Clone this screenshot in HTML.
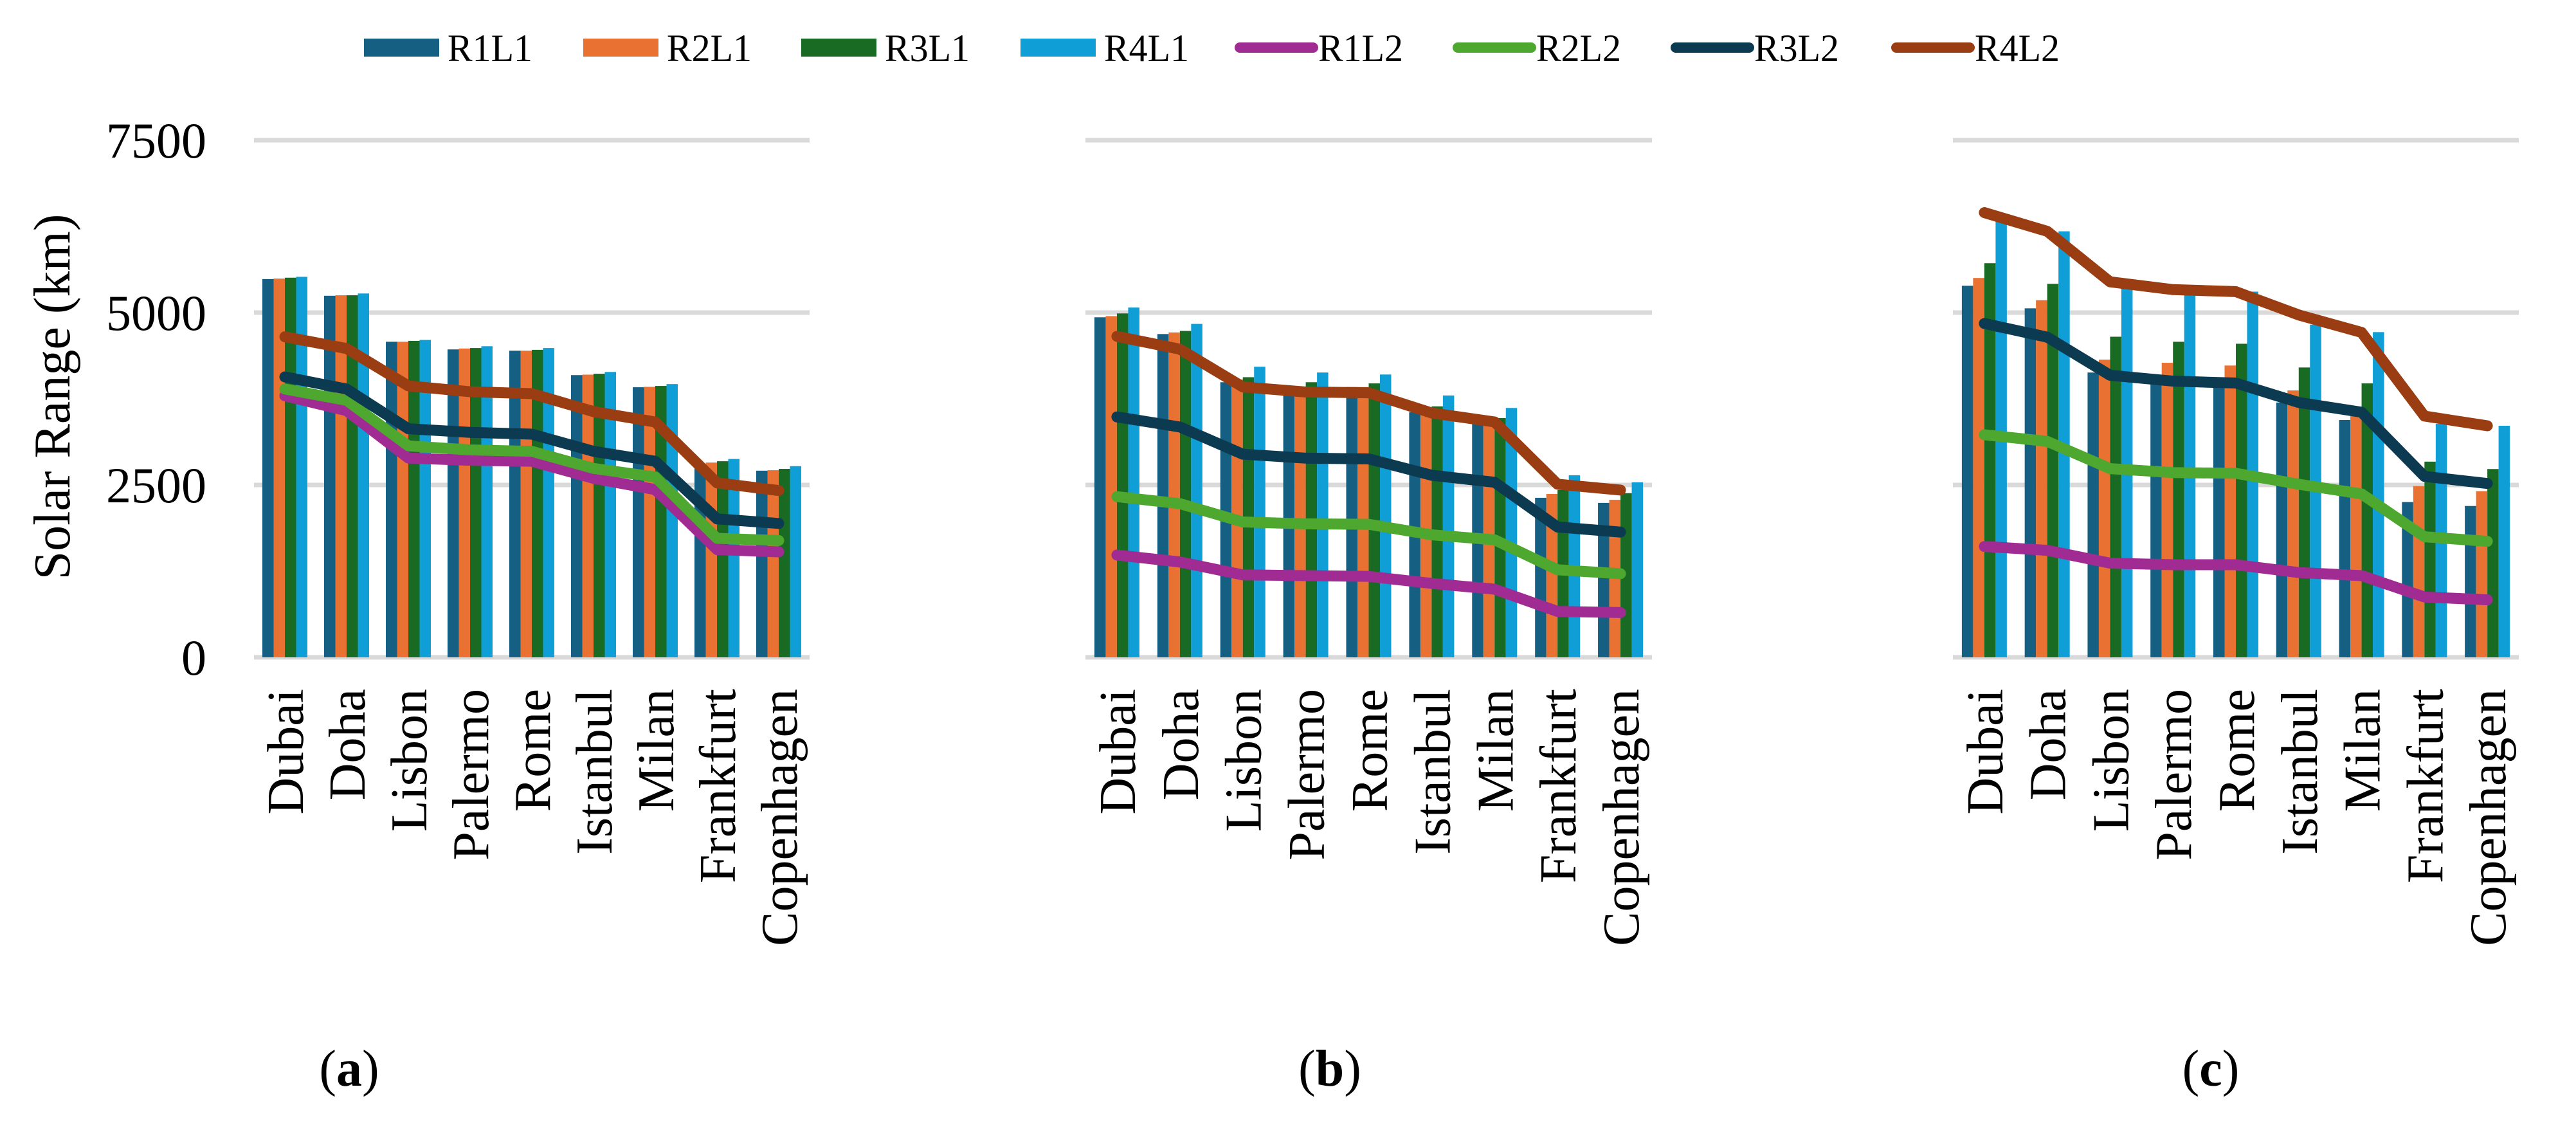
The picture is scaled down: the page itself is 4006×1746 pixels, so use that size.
<!DOCTYPE html>
<html><head><meta charset="utf-8">
<style>
html,body{margin:0;padding:0;background:#fff;}
svg{display:block;font-family:"Liberation Serif","Times New Roman",serif;}
</style></head>
<body>
<svg id="chart" width="4006" height="1746" viewBox="0 0 4006 1746" xmlns="http://www.w3.org/2000/svg">
  <g id="legend"></g>
  <text x="0" y="0" transform="translate(108,617) rotate(-90)" text-anchor="middle" font-size="80" fill="#000">Solar Range (km)</text>
  <g id="panels"></g>
</svg>
<script>
const categories = ["Dubai","Doha","Lisbon","Palermo","Rome","Istanbul","Milan","Frankfurt","Copenhagen"];
const seriesNames = ["R1L1","R2L1","R3L1","R4L1","R1L2","R2L2","R3L2","R4L2"];
const yTicks = [0,2500,5000,7500];
const panelLabels = ["a","b","c"];

// Panel (a)
const a_R1L1 = [5486,5244,4577,4466,4447,4093,3917,2800,2707];
const a_R2L1 = [5493,5251,4577,4479,4447,4100,3923,2825,2714];
const a_R3L1 = [5506,5251,4590,4486,4460,4113,3936,2844,2733];
const a_R4L1 = [5519,5277,4603,4512,4486,4139,3963,2877,2773];
const a_R1L2 = [3793,3577,2890,2858,2844,2596,2433,1563,1530];
const a_R2L2 = [3891,3727,3067,3008,2988,2740,2616,1726,1694];
const a_R3L2 = [4067,3891,3315,3263,3237,2988,2844,2008,1942];
const a_R4L2 = [4649,4479,3937,3852,3825,3564,3413,2531,2419];
// Panel (b)
const b_R1L1 = [4932,4689,3990,3920,3920,3555,3386,2314,2240];
const b_R2L1 = [4949,4712,4030,3920,3920,3555,3386,2370,2285];
const b_R3L1 = [4988,4734,4063,3990,3973,3640,3470,2427,2381];
const b_R4L1 = [5073,4836,4215,4131,4102,3798,3617,2641,2539];
const b_R1L2 = [1484,1383,1196,1185,1174,1072,988,666,649];
const b_R2L2 = [2330,2229,1964,1936,1930,1777,1704,1270,1213];
const b_R3L2 = [3487,3341,2946,2889,2878,2641,2539,1890,1817];
const b_R4L2 = [4655,4469,3922,3848,3837,3544,3414,2511,2426];
// Panel (c)
const c_R1L1 = [5389,5062,4131,3978,3950,3696,3442,2252,2195];
const c_R2L1 = [5502,5180,4317,4272,4232,3871,3499,2483,2410];
const c_R3L1 = [5716,5417,4650,4577,4548,4204,3973,2838,2731];
const c_R4L1 = [6331,6179,5361,5276,5304,4825,4717,3386,3358];
const c_R1L2 = [1608,1552,1366,1343,1343,1230,1185,875,835];
const c_R2L2 = [3228,3132,2737,2680,2669,2511,2370,1749,1682];
const c_R3L2 = [4842,4644,4091,4006,3978,3696,3555,2624,2522];
const c_R4L2 = [6450,6179,5446,5333,5304,4966,4712,3499,3358];

const colors = ["#156082","#E97132","#196B24","#0F9ED5","#A02B93","#4EA72E","#0C3A50","#9A3D12"];
const NS = "http://www.w3.org/2000/svg";
function mk(tag, attrs, parent){const e=document.createElementNS(NS,tag);for(const k in attrs)e.setAttribute(k,attrs[k]);parent.appendChild(e);return e;}

const panelsData = [
  {left:395,right:1259,bars:[a_R1L1,a_R2L1,a_R3L1,a_R4L1],lines:[a_R1L2,a_R2L2,a_R3L2,a_R4L2],labelX:543,ticks:true},
  {left:1688,right:2569,bars:[b_R1L1,b_R2L1,b_R3L1,b_R4L1],lines:[b_R1L2,b_R2L2,b_R3L2,b_R4L2],labelX:2068,ticks:false},
  {left:3037,right:3917,bars:[c_R1L1,c_R2L1,c_R3L1,c_R4L1],lines:[c_R1L2,c_R2L2,c_R3L2,c_R4L2],labelX:3438,ticks:false}
];
const Y0=1022, Y7500=218;
function yScale(v){return Y0-(v/7500)*(Y0-Y7500);}

const root=document.getElementById("panels");
panelsData.forEach((p,pi)=>{
  const g=mk("g",{},root);
  
  
  const band=(p.right-p.left)/categories.length;
  function xCenter(i){return p.left+band*(i+0.5);}
  yTicks.forEach(t=>{
    const l=mk("line",{x1:p.left,x2:p.right,y1:yScale(t),y2:yScale(t),stroke:"#D9D9D9","stroke-width":7},g);
    
    
    if(p.ticks){
      const tx=mk("text",{x:321,y:yScale(t)+27,"text-anchor":"end","font-size":78,fill:"#000"},g);
      tx.textContent=t;
      
      
    }
  });
  const bw=17.5;
  p.bars.forEach((arr,si)=>{
    arr.forEach((v,i)=>{
      const x=xCenter(i)-2*bw+si*bw;
      const r=mk("rect",{x:x,y:yScale(v),width:bw,height:yScale(0)-yScale(v),fill:colors[si]},g);
      
      
    });
  });
  p.lines.forEach((arr,li)=>{
    const pts=arr.map((v,i)=>xCenter(i)+","+yScale(v)).join(" ");
    const pl=mk("polyline",{points:pts,fill:"none",stroke:colors[4+li],"stroke-width":17,"stroke-linecap":"round","stroke-linejoin":"round"},g);
    
    
  });
  categories.forEach((c,i)=>{
    const tx=mk("text",{x:0,y:0,transform:"translate("+(xCenter(i)+28)+",1071) rotate(-90)","text-anchor":"end","font-size":80,fill:"#000"},g);
    tx.textContent=c;
    
    
  });
  const lb=mk("text",{x:p.labelX,y:1688,"text-anchor":"middle","font-size":80,fill:"#000"},g);
  lb.innerHTML='(<tspan font-weight="bold">'+panelLabels[pi]+'</tspan>)';
  
  
});

const leg=document.getElementById("legend");
const legX=[566,907,1246,1587,1920,2259,2598,2941];
seriesNames.forEach((n,i)=>{
  const g=mk("g",{},leg);
  
  
  if(i<4){
    mk("rect",{x:legX[i],y:60,width:117,height:28,fill:colors[i]},g);
  } else {
    mk("line",{x1:legX[i]+8,x2:legX[i]+122,y1:74,y2:74,stroke:colors[i],"stroke-width":16,"stroke-linecap":"round"},g);
  }
  const t=mk("text",{x:legX[i]+130,y:95,"font-size":60,"textLength":132,"lengthAdjust":"spacingAndGlyphs",fill:"#000"},g);
  t.textContent=n;
});
</script>
</body></html>
